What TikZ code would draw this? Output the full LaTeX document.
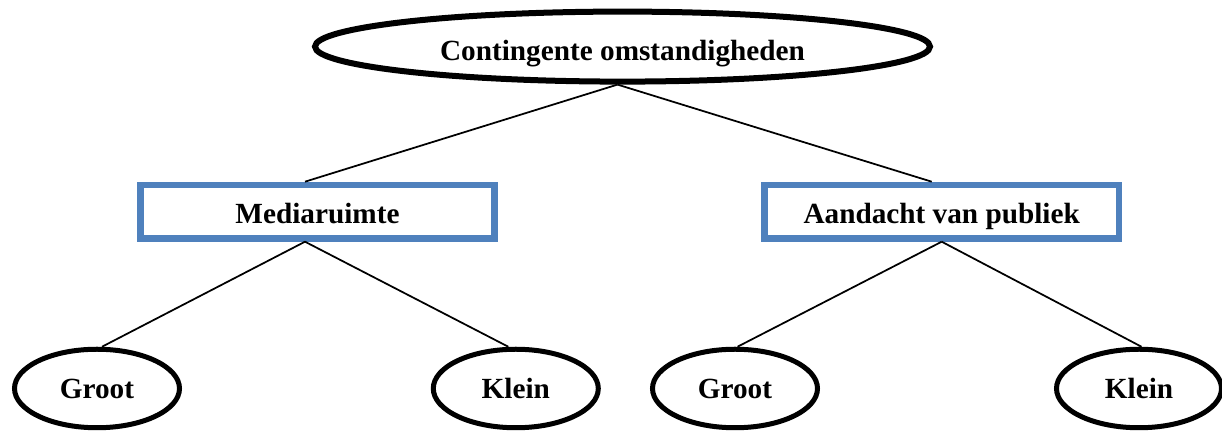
\documentclass[tikz,border=0pt]{standalone}
\usepackage{fontspec}
\setmainfont{Liberation Serif}
\usetikzlibrary{shapes.geometric}
\definecolor{boxblue}{RGB}{79,129,189}

\begin{document}
\begin{tikzpicture}[x=0.4pt, y=-0.4pt,
  every node/.style={font=\fontsize{11.7}{14}\selectfont\bfseries, inner sep=0pt, text depth=0pt},
  root/.style={ellipse, draw, line width=2.4pt, minimum width=246pt, minimum height=28pt, text height=10.8pt},
  cat/.style={rectangle, draw=boxblue, line width=2.7pt, minimum width=141.8pt, minimum height=21.3pt, text height=9.4pt},
  leaf/.style={ellipse, draw, line width=2pt, minimum width=66pt, minimum height=31.4pt, text height=7.8pt},
  conn/.style={line width=0.7pt}]
  \useasboundingbox (0,0) rectangle (1222,431);

  \node[root] (co) at (622.5,46.6) {Contingente omstandigheden};

  \node[cat] (mr) at (317.5,211.7) {Mediaruimte};
  \node[cat] (ap) at (941.7,211.7) {Aandacht van publiek};

  \node[leaf] (mrg) at (97,388.5) {Groot};
  \node[leaf] (mrk) at (515.8,388.5) {Klein};
  \node[leaf] (apg) at (735,388.5) {Groot};
  \node[leaf] (apk) at (1139,388.5) {Klein};

  \draw[conn] ([xshift=-2pt]co.south) -- ([xshift=-5pt]mr.north);
  \draw[conn] ([xshift=-2pt]co.south) -- ([xshift=-4pt]ap.north);
  \draw[conn] ([xshift=-5pt]mr.south) -- ([xshift=2pt]mrg.north);
  \draw[conn] ([xshift=-5pt]mr.south) -- ([xshift=-3pt]mrk.north);
  \draw[conn] (ap.south) -- ([xshift=1pt]apg.north);
  \draw[conn] (ap.south) -- ([xshift=1pt]apk.north);
\end{tikzpicture}
\end{document}
